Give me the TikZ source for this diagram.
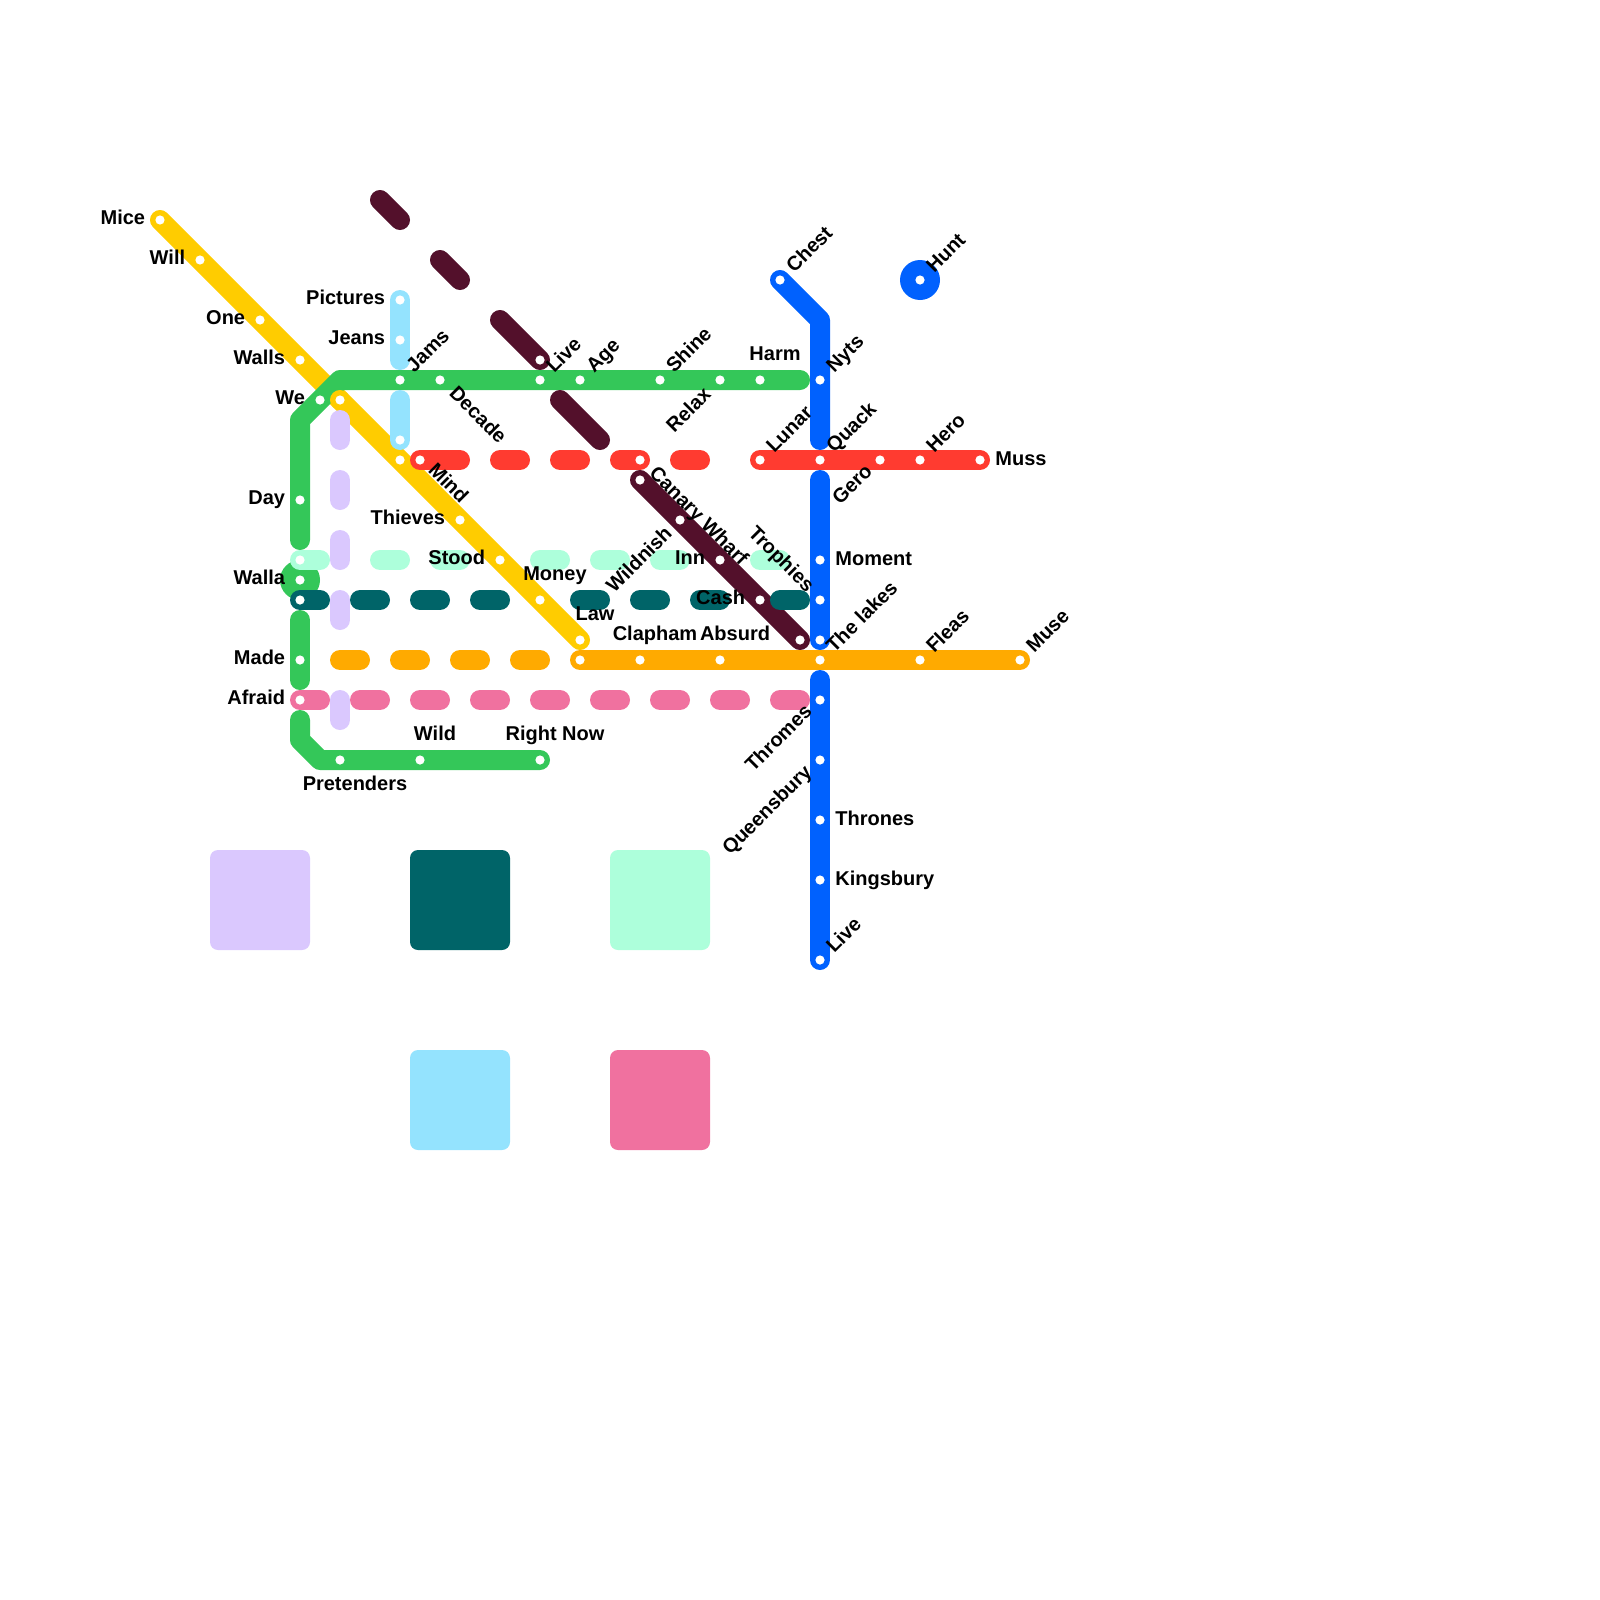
\documentclass[tikz,border=0pt]{standalone}
\usepackage{fontspec}
\setmainfont{Liberation Sans}
\definecolor{cyellow}{HTML}{FFCC00}
\definecolor{cgreen}{HTML}{34C759}
\definecolor{cmaroon}{HTML}{53102B}
\definecolor{csky}{HTML}{94E3FE}
\definecolor{cred}{HTML}{FF3B30}
\definecolor{cblue}{HTML}{0061FE}
\definecolor{corange}{HTML}{FFAA00}
\definecolor{cpink}{HTML}{F0719F}
\definecolor{clilac}{HTML}{DAC8FE}
\definecolor{cmint}{HTML}{ADFFDB}
\definecolor{cteal}{HTML}{006468}
\tikzset{
  metro/.style={line width=10pt,line cap=round,line join=round},
  dot/.style={circle,fill=white,inner sep=0pt,minimum size=4.6pt},
  lbl/.style={inner sep=0pt,font=\fontsize{10}{12}\selectfont\bfseries,text=black},
  up/.style={lbl,rotate=45,anchor=base west},
  dn/.style={lbl,rotate=-45,anchor=base west},
  lft/.style={lbl,anchor=base east},
  rgt/.style={lbl,anchor=base west},
  mid/.style={lbl,anchor=base},
  swatch/.style={rounded corners=4pt}
}
\begin{document}
\begin{tikzpicture}[x=0.5pt,y=-0.5pt]
\useasboundingbox (0,0) rectangle (1600,1600);
% swatches
\fill[clilac,swatch] (210,850) rectangle (310,950);
\fill[cteal,swatch] (410,850) rectangle (510,950);
\fill[cmint,swatch] (610,850) rectangle (710,950);
\fill[csky,swatch] (410,1050) rectangle (510,1150);
\fill[cpink,swatch] (610,1050) rectangle (710,1150);
% station positions
\foreach \n/\x/\y in {
 mice/160/220,will/200/260,one/260/320,walls/300/360,mind/340/400,yb/400/460,thieves/460/520,stood/500/560,money/540/600,law/580/640,
 we/320/400,jams/400/380,decade/440/380,live/540/380,age/580/380,shine/660/380,gf/720/380,harm/760/380,day/300/500,walla/300/580,made/300/660,
 pret/340/760,wild/420/760,rnow/540/760,
 pics/400/300,jeans/400/340,sk/400/440,
 rs/420/460,rb/640/460,lunar/760/460,quack/820/460,rc/880/460,hero/920/460,muss/980/460,
 md/540/360,mc/640/480,md2/680/520,md3/720/560,md4/760/600,md5/800/640,
 chest/780/280,nyts/820/380,moment/820/560,bb/820/600,bc/820/640,bd/820/700,be/820/760,thrones/820/820,kings/820/880,blive/820/960,hunt/920/280,
 oa/580/660,ob/640/660,oc/720/660,lakes/820/660,fleas/920/660,muse/1020/660,
 mi/300/560,te/300/600,pk/300/700}
 {\coordinate (\n) at (\x,\y);}
% yellow, first part lies under green
\draw[metro,cyellow] (mice) -- (mind);
% green
\draw[metro,cgreen] (800,380) -- (340,380) -- (300,420) -- (300,540);
\fill[cgreen] (walla) circle (20);
\fill[cblue] (hunt) circle (20);
\draw[metro,cgreen] (300,620) -- (made) -- (300,680);
\draw[metro,cgreen] (300,720) -- (300,740) -- (320,760) -- (rnow);
% yellow, second part
\draw[metro,cyellow] (mind) -- (law);
% sky
\draw[metro,csky] (pics) -- (400,360);
\draw[metro,csky] (400,400) -- (sk);
% maroon
\foreach \a/\b/\c/\d in {380/200/400/220,440/260/460/280,500/320/540/360,560/400/600/440,640/480/800/640}
  \draw[metro,cmaroon] (\a,\b) -- (\c,\d);
% red
\foreach \a/\b in {420/460,500/520,560/580,620/640,680/700,760/980}
  \draw[metro,cred] (\a,460) -- (\b,460);
% blue
\draw[metro,cblue] (chest) -- (820,320) -- (820,440);
\draw[metro,cblue] (820,480) -- (bc);
\draw[metro,cblue] (820,680) -- (blive);
% orange
\foreach \a/\b in {340/360,400/420,460/480,520/540,580/1020}
  \draw[metro,corange] (\a,660) -- (\b,660);
% pink
\foreach \a in {300,360,...,780}
  \draw[metro,cpink] (\a,700) -- (\a+20,700);
% mint
\foreach \a in {300,380,440,540,600,660,760}
  \draw[metro,cmint] (\a,560) -- (\a+20,560);
% teal
\foreach \a in {300,360,420,480,580,640,700,780}
  \draw[metro,cteal] (\a,600) -- (\a+20,600);
% lilac
\foreach \a in {420,480,540,600,700}
  \draw[metro,clilac] (340,\a) -- (340,\a+20);
% stations
\foreach \n in {mice,will,one,walls,mind,yb,thieves,stood,money,law,we,jams,decade,live,age,shine,gf,harm,day,walla,made,pret,wild,rnow,pics,jeans,sk,rs,rb,lunar,quack,rc,hero,muss,md,mc,md2,md3,md4,md5,chest,nyts,moment,bb,bc,bd,be,thrones,kings,blive,hunt,oa,ob,oc,lakes,fleas,muse,mi,te,pk}
  \node[dot] (d\n) at (\n) {};
% labels
\node[lft] (lMice) at (145.5,224.7) {Mice};
\node[lft] (lWill) at (185.5,264.7) {Will};
\node[lft] (lOne) at (245.5,324.7) {One};
\node[lft] (lWalls) at (285.5,364.7) {Walls};
\node[lft] (lWe) at (305.5,404.7) {We};
\node[lft] (lDay) at (285.5,504.7) {Day};
\node[lft] (lWalla) at (285.5,584.7) {Walla};
\node[lft] (lMade) at (285.5,664.7) {Made};
\node[lft] (lAfraid) at (285.5,704.7) {Afraid};
\node[lft] (lPictures) at (385.5,304.7) {Pictures};
\node[lft] (lJeans) at (385.5,344.7) {Jeans};
\node[lft] (lThieves) at (445.5,524.7) {Thieves};
\node[lft] (lStood) at (485.5,564.7) {Stood};
\node[lft] (lInn) at (705.5,564.7) {Inn};
\node[lft] (lCash) at (745.5,604.7) {Cash};
\node[mid] (lHarm) at (775,360) {Harm};
\node[mid] (lMoney) at (555,580.5) {Money};
\node[mid] (lLaw) at (595,620) {Law};
\node[mid] (lClapham) at (655,640) {Clapham};
\node[mid] (lAbsurd) at (735,640) {Absurd};
\node[mid] (lWild) at (435,740) {Wild};
\node[mid] (lRight) at (555,740) {Right Now};
\node[mid] (lPret) at (355,790) {Pretenders};
\node[rgt] (lMuss) at (995,465) {Muss};
\node[rgt] (lMoment) at (835,565) {Moment};
\node[rgt] (lThrones) at (835,825) {Thrones};
\node[rgt] (lKings) at (835,885) {Kingsbury};
\node[up] (lJams) at (414,374) {Jams};
\node[up] (lLive) at (554,374) {Live};
\node[up] (lAge) at (594,374) {Age};
\node[up] (lShine) at (674,374) {Shine};
\node[up] (lRelax) at (674,434) {Relax};
\node[up] (lLunar) at (774,454) {Lunar};
\node[up] (lQuack) at (834,454) {Quack};
\node[up] (lHero) at (934,454) {Hero};
\node[up] (lGero) at (840,506) {Gero};
\node[up] (lNyts) at (834,374) {Nyts};
\node[up] (lChest) at (794,274) {Chest};
\node[up] (lHunt) at (934,274) {Hunt};
\node[up] (lLakes) at (834,654) {The lakes};
\node[up] (lFleas) at (934,654) {Fleas};
\node[up] (lMuse) at (1034,654) {Muse};
\node[up] (lWildnish) at (614,594) {Wildnish};
\node[up] (lThromes) at (753,773) {Thromes};
\node[up] (lQueens) at (730,856) {Queensbury};
\node[up] (lLive2) at (834,954) {Live};
\node[dn] (lDecade) at (448,394) {Decade};
\node[dn] (lMind) at (427,471) {Mind};
\node[dn] (lCanary) at (648,474) {Canary Wharf};
\node[dn] (lTrophies) at (747,534) {Trophies};
\end{tikzpicture}
\end{document}
